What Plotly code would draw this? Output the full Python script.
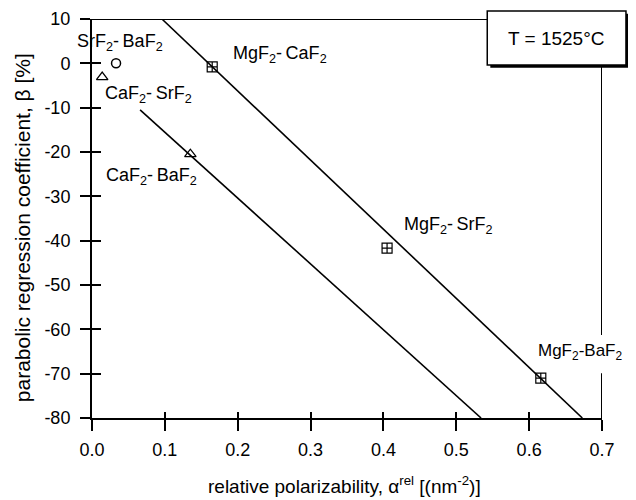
import plotly.graph_objects as go

# ---- data ----
circle_x = [0.033]
circle_y = [0.0]
tri_x = [0.014, 0.135]
tri_y = [-3.1, -20.5]
sq_x = [0.165, 0.405, 0.616]
sq_y = [-0.8, -41.7, -71.0]

line_upper_x = [0.096, 0.673]
line_upper_y = [10.0, -80.0]
line_lower_x = [0.066, 0.534]
line_lower_y = [-10.5, -80.0]

TS = "\u2009"
labels = ["SrF<sub>2</sub>-" + TS + "BaF<sub>2</sub>", "MgF<sub>2</sub>-" + TS + "CaF<sub>2</sub>",
          "CaF<sub>2</sub>-" + TS + "SrF<sub>2</sub>", "CaF<sub>2</sub>-" + TS + "BaF<sub>2</sub>",
          "MgF<sub>2</sub>-" + TS + "SrF<sub>2</sub>"]
label_x = [0.038, 0.258, 0.078, 0.082, 0.489]
label_y = [4.6, 1.9, -7.1, -25.6, -36.5]
edge_label = "MgF<sub>2</sub>-BaF<sub>2</sub>"
edge_label_x = 0.609
edge_label_y = -65.1

x_ticks = [0.0, 0.1, 0.2, 0.3, 0.4, 0.5, 0.6, 0.7]
x_ticktext = ["0.0", "0.1", "0.2", "0.3", "0.4", "0.5", "0.6", "0.7"]
y_ticks = [10, 0, -10, -20, -30, -40, -50, -60, -70, -80]
y_ticktext = ["10", "0", "-10", "-20", "-30", "-40", "-50", "-60", "-70", "-80"]

FONT = "Liberation Sans, Arial, Helvetica, sans-serif"
FS = 18

fig = go.Figure()

fig.add_trace(go.Scatter(x=line_upper_x, y=line_upper_y, mode="lines",
                         line=dict(color="black", width=1.6), showlegend=False))
fig.add_trace(go.Scatter(x=line_lower_x, y=line_lower_y, mode="lines",
                         line=dict(color="black", width=1.6), showlegend=False))
fig.add_trace(go.Scatter(x=circle_x, y=circle_y, mode="markers",
                         marker=dict(symbol="circle-open", size=9, color="black",
                                     line=dict(width=1.5)), showlegend=False))
fig.add_trace(go.Scatter(x=tri_x, y=tri_y, mode="markers",
                         marker=dict(symbol="triangle-up-open", size=10, color="black",
                                     line=dict(width=1.3)), showlegend=False))
fig.add_trace(go.Scatter(x=sq_x, y=sq_y, mode="markers",
                         marker=dict(symbol="square-cross-open", size=10, color="black",
                                     line=dict(width=1.2)), showlegend=False))
# dummy trace for overlay axes (inside half of crossing ticks)
fig.add_trace(go.Scatter(x=[None], y=[None], xaxis="x2", yaxis="y2",
                         mode="markers", showlegend=False, hoverinfo="skip"))

ann = []
for t, x, y in zip(labels, label_x, label_y):
    ann.append(dict(x=x, y=y, xref="x", yref="y", text=t, showarrow=False,
                    xanchor="center", yanchor="middle",
                    font=dict(family=FONT, size=FS, color="black")))
ann.append(dict(x=edge_label_x, y=edge_label_y, xref="x", yref="y",
                xanchor="left", yanchor="middle",
                text=edge_label, showarrow=False,
                font=dict(family=FONT, size=17, color="black")))
ann.append(dict(x=0.911, y=0.952, xref="paper", yref="paper",
                xanchor="center", yanchor="middle",
                text="T = 1525°C", showarrow=False,
                font=dict(family=FONT, size=19, color="black")))
ann.append(dict(x=-0.137, y=0.476, xref="paper", yref="paper", textangle=-90,
                xanchor="center", yanchor="middle",
                text="parabolic regression coefficient, β [%]", showarrow=False,
                font=dict(family=FONT, size=21, color="black")))
ann.append(dict(x=0.496, y=-0.168, xref="paper", yref="paper",
                xanchor="center", yanchor="middle",
                text="relative polarizability, α<sup>rel</sup> [(nm<sup>-2</sup>)]",
                showarrow=False, font=dict(family=FONT, size=19, color="black")))

shapes = [
    # top frame line up to the box
    dict(type="line", xref="x", yref="y", x0=0, x1=0.5425, y0=10, y1=10,
         line=dict(color="black", width=2)),
    # right frame line from box to bottom, interrupted by the label
    dict(type="line", xref="x", yref="y", x0=0.7, x1=0.7, y0=-0.6, y1=-61.3,
         line=dict(color="black", width=2)),
    dict(type="line", xref="x", yref="y", x0=0.7, x1=0.7, y0=-69.9, y1=-80,
         line=dict(color="black", width=2)),
    # box shadow
    dict(type="rect", xref="paper", yref="paper", x0=0.781, x1=1.053,
         y0=0.878, y1=1.013, fillcolor="black", line=dict(width=0)),
    # box
    dict(type="rect", xref="paper", yref="paper", x0=0.775, x1=1.047,
         y0=0.885, y1=1.020, fillcolor="white", line=dict(color="black", width=1.5)),
]

fig.update_layout(
    width=628, height=492,
    margin=dict(l=84, r=34, t=11, b=82, autoexpand=False),
    paper_bgcolor="white", plot_bgcolor="white",
    font=dict(family=FONT, size=FS, color="black"),
    xaxis=dict(range=[0, 0.7], tickvals=x_ticks, ticktext=x_ticktext,
               showgrid=False, zeroline=False, showline=True, linecolor="black",
               linewidth=2, ticks="outside", ticklen=11, tickwidth=1.5,
               tickcolor="black", tickfont=dict(size=FS), ticklabelstandoff=3,
               automargin=False),
    yaxis=dict(range=[-80, 10], tickvals=y_ticks, ticktext=y_ticktext,
               showgrid=False, zeroline=False,
               showline=True, linecolor="black", linewidth=2, ticks="outside",
               ticklen=10, tickwidth=1.5, tickcolor="black",
               tickfont=dict(size=FS), ticklabelstandoff=6, automargin=False),
    xaxis2=dict(range=[0, 0.7], tickvals=x_ticks, overlaying="x", anchor="y2",
                showticklabels=False, showgrid=False, zeroline=False,
                showline=False, ticks="inside", ticklen=6, tickwidth=1.5,
                tickcolor="black", side="bottom"),
    yaxis2=dict(range=[-80, 10], tickvals=y_ticks, overlaying="y", anchor="x2",
                showticklabels=False, showgrid=False, zeroline=False,
                showline=False, ticks="inside", ticklen=9, tickwidth=1.5,
                tickcolor="black", side="left"),
    annotations=ann,
    shapes=shapes,
)

fig.write_html("out.html")
